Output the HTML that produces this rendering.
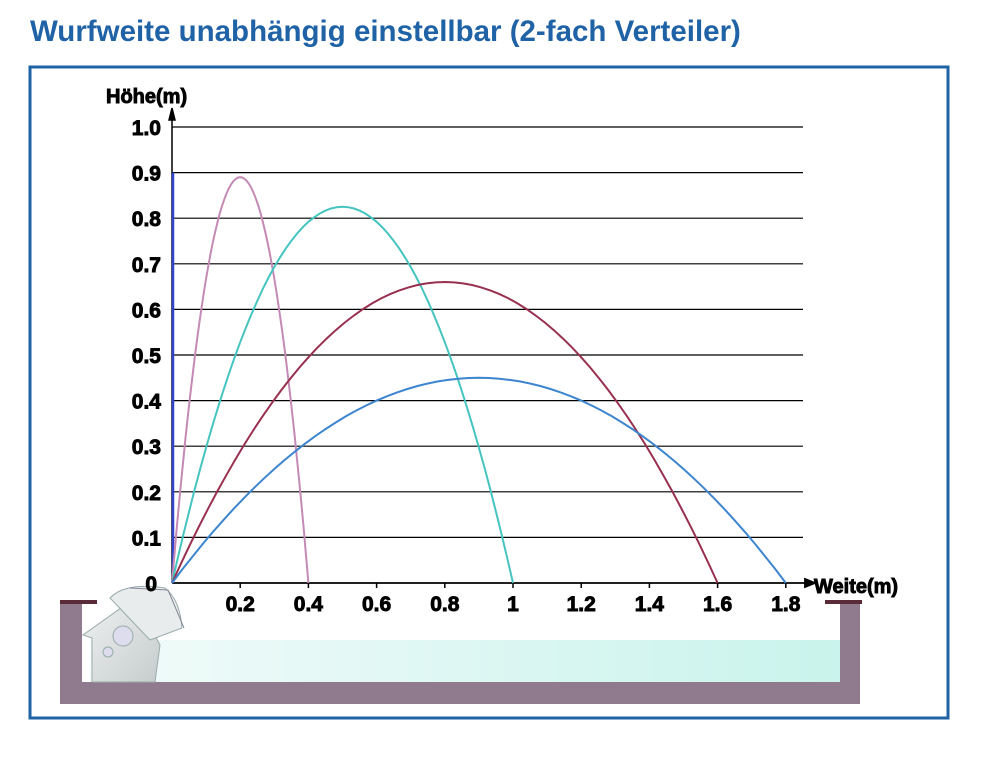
<!DOCTYPE html>
<html><head><meta charset="utf-8"><style>
body{margin:0;background:#fff;width:981px;height:753px;overflow:hidden;font-family:"Liberation Sans",sans-serif}
</style></head><body>
<svg width="981" height="753" xmlns="http://www.w3.org/2000/svg">
<defs>
<linearGradient id="wg" x1="0" x2="1"><stop offset="0" stop-color="#f2fbfa"/><stop offset="1" stop-color="#c9f3ec"/></linearGradient>
<linearGradient id="ng" x1="0" x2="1" y1="0" y2="1"><stop offset="0" stop-color="#f0f2f2"/><stop offset="1" stop-color="#c6cccc"/></linearGradient>
</defs>
<text x="30" y="41" font-size="29.5" font-weight="bold" fill="#1f62a6">Wurfweite unabhängig einstellbar (2-fach Verteiler)</text>
<rect x="30" y="67" width="918" height="651" fill="none" stroke="#1f62a6" stroke-width="3"/>
<g>
<rect x="90" y="640" width="752" height="42" fill="url(#wg)"/>
<rect x="60" y="604" width="22" height="100" fill="#8f7a8e"/>
<rect x="60" y="682" width="800" height="22" fill="#8f7a8e"/>
<rect x="840" y="604" width="20" height="100" fill="#8f7a8e"/>
<rect x="60" y="600" width="37" height="4" fill="#5a2a38"/>
<rect x="825" y="600" width="37" height="4" fill="#5a2a38"/>
</g>
<g stroke="#9aa" stroke-width="1">
<path d="M92 682 L92 638 L83 635 L135 598 L160 645 L155 682 Z" fill="url(#ng)"/>
<path d="M110 598 Q125 582 165 588 Q180 600 182 628 L150 640 Z" fill="#e8ecec"/>
<path d="M130 588 L168 590 L184 628" fill="none" stroke="#889"/>
<circle cx="123" cy="636" r="10" fill="#dde"/>
<circle cx="108" cy="652" r="5" fill="#dde"/>
</g>
<g id="plot"></g>
</svg>
<script>
const yTicks=["0","0.1","0.2","0.3","0.4","0.5","0.6","0.7","0.8","0.9","1.0"];
const xTicks=["0.2","0.4","0.6","0.8","1","1.2","1.4","1.6","1.8"];
const xTickVals=[0.2,0.4,0.6,0.8,1,1.2,1.4,1.6,1.8];
const seriesNames=["pink","teal","maroon","blue"];
const peakX=[0.2,0.5,0.8,0.9];
const peakY=[0.89,0.825,0.66,0.45];
const rangeX=[0.4,1.0,1.6,1.8];
const colors=["#c48ab5","#45c4c0","#98304f","#3d86cf"];
const X0=172,Y0=583;
const sx=v=>X0+v*341;
const sy=v=>Y0-v*456;
const NS="http://www.w3.org/2000/svg";
const g=document.getElementById('plot');
function mk(t,a){const e=document.createElementNS(NS,t);for(const k in a)e.setAttribute(k,a[k]);g.appendChild(e);return e;}
const bold={'font-weight':'bold',stroke:'#000','stroke-width':0.9};
yTicks.forEach((t,i)=>{const v=i/10;
 if(i>0){const l=mk('line',{x1:X0,x2:803,y1:sy(v),y2:sy(v),stroke:'#000','stroke-width':1.2});
 
 }
 const tx=mk('text',Object.assign({x:i==0?157:161,y:sy(v)+8,'font-size':21,'text-anchor':'end'},bold));
 tx.textContent=t;
 
 
});
xTicks.forEach((t,i)=>{const x=sx(xTickVals[i]);
 const tk=mk('line',{x1:x,x2:x,y1:Y0,y2:Y0+5,stroke:'#000','stroke-width':1.5});
 
 
 const tx=mk('text',Object.assign({x:x,y:611,'font-size':21,'text-anchor':'middle'},bold));
 tx.textContent=t;
 
 
});
const xa=mk('path',{d:`M${X0} ${Y0} H805 M805 ${Y0-4} L815 ${Y0} L805 ${Y0+4} Z`,stroke:'#000','stroke-width':1.8,fill:'#000'});


const ya=mk('path',{d:`M${X0} ${Y0} V112 M${X0-3} 120 L${X0} 108 L${X0+3} 120 Z`,stroke:'#000','stroke-width':1.5,fill:'#000'});


const bl=mk('line',{x1:X0+1,x2:X0+1,y1:Y0,y2:sy(0.9),stroke:'#3344cc','stroke-width':2.5});


const xt=mk('text',Object.assign({x:814,y:593,'font-size':20},bold));xt.textContent='Weite(m)';


const yt=mk('text',Object.assign({x:106,y:103,'font-size':20},bold));yt.textContent='Höhe(m)';


seriesNames.forEach((n,i)=>{
 let d='';const R=rangeX[i],px=peakX[i],H=peakY[i];
 for(let k=0;k<=60;k++){const x=R*k/60;let y;
  if(x<=px){const u=x/px;y=H*(1-(1-u)*(1-u));}else{const u=(x-px)/(R-px);y=H*(1-u*u);}
  d+=(k?'L':'M')+sx(x).toFixed(1)+' '+sy(y).toFixed(1);}
 const p=mk('path',{d:d,fill:'none',stroke:colors[i],'stroke-width':2});
 
 
});
</script>
</body></html>
